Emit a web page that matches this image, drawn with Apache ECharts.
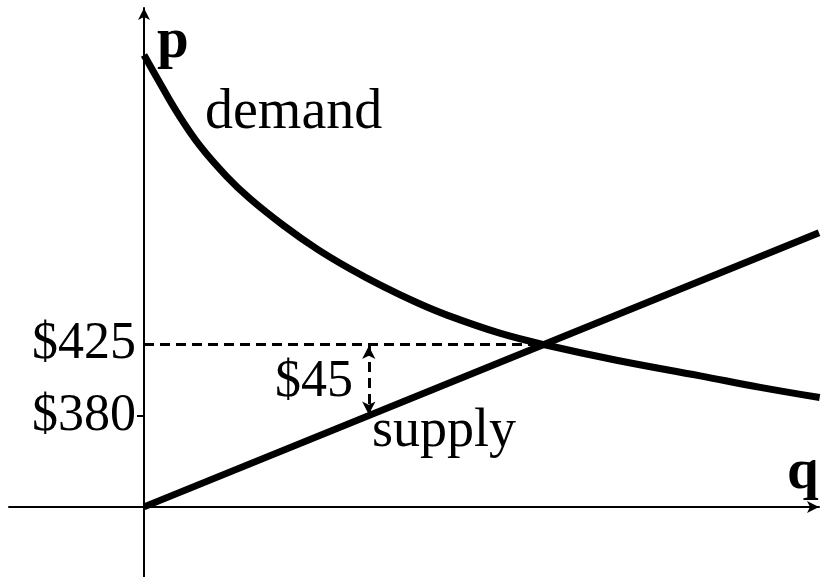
<!DOCTYPE html>
<html>
<head>
<meta charset="utf-8">
<script src="https://cdn.jsdelivr.net/npm/echarts@6/dist/echarts.min.js"></script>
<style>
  html, body { margin: 0; padding: 0; background: #fff; }
  #chart { width: 821px; height: 577px; }
</style>
</head>
<body>
<div id="chart"></div>
<script>
// demand curve (q, p)
const demandQ = [0, 2.4, 4.9, 8.3, 12.3, 15.7, 20.6, 25.6, 30.5, 35.4, 40.4, 44.9, 52.7, 59.7, 70, 82.4, 91.3, 100.1];
const demandP = [606.5, 588.6, 570.5, 549.5, 530.1, 516.4, 499.8, 484.9, 472.4, 461.3, 451.2, 443.3, 432, 424.4, 415, 405.2, 398, 391.6];
// supply is a straight line from the origin
const supplyQ = [0, 100];
const supplyP = [323, 495];

const priceTicks = [380, 425];
const qEq = 60;
const gapQ = 33.3;

const font = 'Liberation Serif, Times New Roman, serif';

const chart = echarts.init(document.getElementById('chart'));

chart.setOption({
  animation: false,
  grid: { left: 9, right: 2, top: 8, bottom: 0, outerBoundsMode: 'none', containLabel: false },
  xAxis: {
    type: 'value',
    min: -20,
    max: 100,
    offset: -70,
    axisLine: {
      onZero: false,
      symbol: ['none', 'arrow'],
      symbolSize: [9, 12],
      lineStyle: { color: '#000', width: 2 }
    },
    axisTick: { show: false },
    axisLabel: { show: false },
    splitLine: { show: false }
  },
  yAxis: {
    type: 'value',
    min: 279,
    max: 636,
    axisLine: {
      onZero: true,
      symbol: ['none', 'arrow'],
      symbolSize: [9, 12],
      lineStyle: { color: '#000', width: 2 }
    },
    axisTick: {
      customValues: [380],
      length: 7,
      lineStyle: { color: '#000', width: 2 }
    },
    axisLabel: {
      customValues: priceTicks,
      formatter: v => '$' + v,
      // labels sit at the grid edge, push them over to the axis line at q=0
      margin: -127,
      fontFamily: font,
      fontSize: 52,
      color: '#000'
    },
    splitLine: { show: false }
  },
  series: [
    {
      name: 'demand',
      type: 'line',
      smooth: 0.4,
      symbol: 'none',
      lineStyle: { color: '#000', width: 7 },
      data: demandQ.map((q, i) => [q, demandP[i]]),
      z: 3
    },
    {
      name: 'supply',
      type: 'line',
      symbol: 'none',
      lineStyle: { color: '#000', width: 7 },
      data: supplyQ.map((q, i) => [q, supplyP[i]]),
      z: 3,
      markLine: {
        silent: true,
        label: { show: false },
        data: [
          [
            { coord: [0, 425], symbol: 'none' },
            { coord: [qEq, 425], symbol: 'none' }
          ],
          [
            { coord: [gapQ, 424], symbol: 'arrow', symbolSize: [10, 13] },
            { coord: [gapQ, 381], symbol: 'arrow', symbolSize: [10, 13] }
          ]
        ],
        lineStyle: { color: '#000', width: 3, type: [10, 6] }
      }
    }
  ],
  graphic: [
    { type: 'text', style: { text: 'p', x: 157, y: 42, font: 'bold 57px ' + font, fill: '#000', verticalAlign: 'middle' } },
    { type: 'text', style: { text: 'demand', x: 205, y: 113, font: '56px ' + font, fill: '#000', verticalAlign: 'middle' } },
    { type: 'text', style: { text: '$45', x: 275, y: 382, font: '52px ' + font, fill: '#000', verticalAlign: 'middle' } },
    { type: 'text', style: { text: 'supply', x: 372, y: 432, font: '54px ' + font, fill: '#000', verticalAlign: 'middle' } },
    { type: 'text', style: { text: 'q', x: 787, y: 473, font: 'bold 57px ' + font, fill: '#000', verticalAlign: 'middle' } }
  ]
});
</script>
</body>
</html>
